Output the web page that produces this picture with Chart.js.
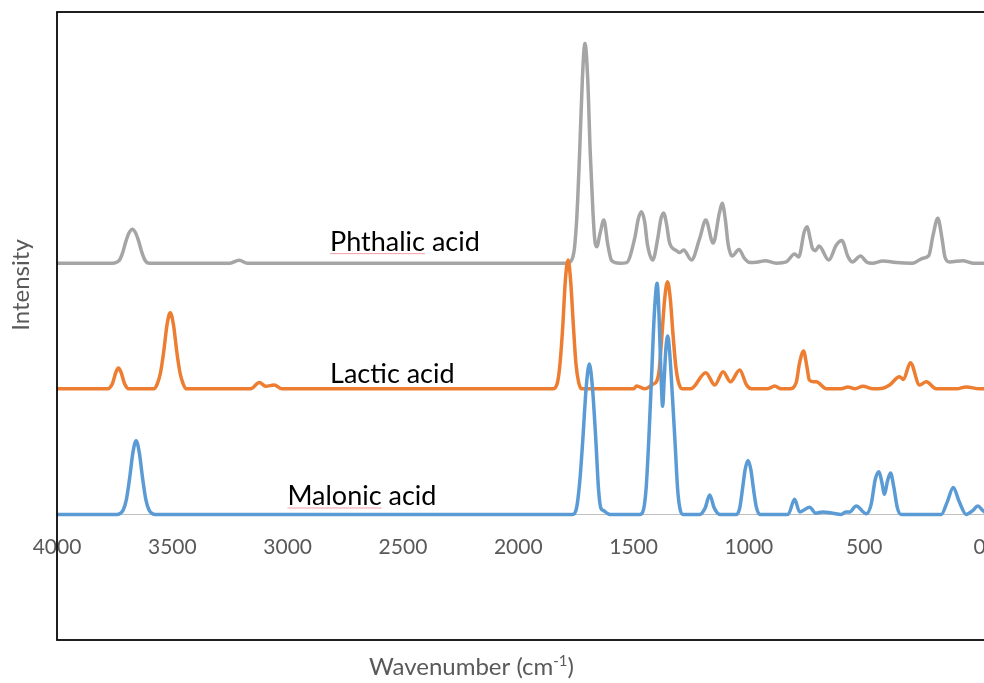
<!DOCTYPE html>
<html>
<head>
<meta charset="utf-8">
<script src="https://cdn.jsdelivr.net/npm/chart.js@4"></script>
<style>
  html, body { margin: 0; padding: 0; background: #fff; overflow: hidden; }
  #wrap { width: 998px; height: 683px; }
</style>
</head>
<body>
<div id="wrap"><canvas id="spectra" width="998" height="683"></canvas></div>
<script>
// tick labels on the wavenumber axis
const xTicks = [4000, 3500, 3000, 2500, 2000, 1500, 1000, 500, 0];

// series names and their vertical offset in the stacked plot
const seriesNames = ['Malonic acid', 'Lactic acid', 'Phthalic acid'];
const seriesOffsets = [0, 1, 2];

// [wavenumber, intensity]
const malonic = [
  [4000, 0], [3740, 0], [3727, 0.007], [3713, 0.035], [3699, 0.12], [3685, 0.29], [3671, 0.49], [3657, 0.587],
  [3643, 0.49], [3629, 0.29], [3615, 0.12], [3601, 0.035], [3587, 0.007], [3575, 0],
  [1765, 0], [1748, 0.045], [1734, 0.25], [1720, 0.6], [1706, 1.0], [1692, 1.197], [1678, 1.0],
  [1664, 0.6], [1652, 0.2], [1642, 0.05], [1630, 0.03], [1615, 0.01], [1603, 0],
  [1473, 0], [1460, 0.02], [1446, 0.2], [1434, 0.6], [1422, 1.1], [1410, 1.6], [1398, 1.84], [1390, 1.6],
  [1381, 1.1], [1374, 0.86], [1368, 1.05], [1360, 1.32], [1352, 1.42], [1344, 1.3], [1332, 0.95],
  [1321, 0.6], [1309, 0.2], [1297, 0.03], [1285, 0],
  [1213, 0], [1190, 0.05], [1170, 0.155], [1150, 0.05], [1126, 0], [1054, 0], [1040, 0.05], [1028, 0.2],
  [1016, 0.36], [1004, 0.43], [992, 0.36], [980, 0.2], [968, 0.06], [953, 0],
  [830, 0], [802, 0.12], [780, 0.02], [737, 0.057], [710, 0.01], [679, 0.02], [636, 0.01], [600, 0],
  [580, 0.02], [563, 0.02], [535, 0.067], [491, 0.005], [470, 0.08], [452, 0.28], [436, 0.34], [424, 0.26],
  [412, 0.16], [400, 0.26], [386, 0.33], [372, 0.22], [356, 0.05], [340, 0],
  [166, 0], [140, 0.1], [114, 0.215], [88, 0.1], [58, 0], [30, 0.03], [8, 0.067],
  [-15, 0.03], [-40, 0], [-80, 0]
];

const lactic = [
  [4000, 0], [3781, 0], [3760, 0.04], [3745, 0.13], [3734, 0.165], [3722, 0.13], [3707, 0.04], [3689, 0],
  [3580, 0], [3565, 0.04], [3551, 0.13], [3537, 0.3], [3523, 0.51], [3509, 0.606], [3495, 0.51],
  [3481, 0.3], [3467, 0.13], [3453, 0.04], [3440, 0],
  [3160, 0], [3123, 0.05], [3095, 0.02], [3058, 0.03], [3025, 0],
  [1850, 0], [1830, 0.05], [1819, 0.2], [1807, 0.5], [1796, 0.86], [1784, 1.025], [1773, 0.86],
  [1761, 0.5], [1750, 0.2], [1738, 0.05], [1725, 0],
  [1500, 0], [1487, 0.022], [1451, 0], [1415, 0.038], [1400, 0.06], [1389, 0.15], [1377, 0.43], [1365, 0.72],
  [1353, 0.853], [1341, 0.72], [1329, 0.43], [1317, 0.18], [1305, 0.05], [1290, 0],
  [1252, 0], [1187, 0.128], [1148, 0.03], [1112, 0.136], [1080, 0.056],
  [1040, 0.15], [1010, 0.03], [989, 0], [920, 0], [888, 0.022], [860, 0], [823, 0], [795, 0.05], [781, 0.2],
  [763, 0.3], [748, 0.17], [738, 0.07], [720, 0.056], [708, 0.056], [664, 0], [600, 0], [571, 0.015], [540, 0],
  [506, 0.02], [460, 0], [420, 0.005], [390, 0.03], [347, 0.096], [330, 0.075], [300, 0.208], [260, 0.03],
  [231, 0.056], [188, 0], [100, 0], [58, 0.015], [0, 0], [-80, 0]
];

const phthalic = [
  [4000, 0], [3760, 0], [3731, 0.02], [3716, 0.08], [3702, 0.17], [3688, 0.24], [3673, 0.27], [3659, 0.24],
  [3645, 0.17], [3631, 0.08], [3617, 0.02], [3600, 0],
  [3250, 0], [3210, 0.024], [3175, 0],
  [1790, 0], [1775, 0.01], [1765, 0.04], [1757, 0.11], [1746, 0.37], [1734, 0.88], [1722, 1.47], [1711, 1.75],
  [1699, 1.47], [1688, 0.88], [1676, 0.4], [1668, 0.18], [1660, 0.13],
  [1645, 0.24], [1629, 0.344], [1612, 0.15], [1595, 0.02], [1560, 0], [1530, 0.005], [1495, 0.2], [1480, 0.35],
  [1466, 0.41], [1452, 0.33], [1440, 0.15], [1417, 0.025], [1395, 0.2], [1382, 0.35], [1370, 0.4], [1358, 0.32],
  [1345, 0.17], [1336, 0.13], [1314, 0.1], [1300, 0.085],
  [1283, 0.105], [1249, 0.025], [1213, 0.2], [1187, 0.344], [1155, 0.16], [1128, 0.4], [1116, 0.477],
  [1103, 0.36], [1090, 0.15],
  [1073, 0.057], [1043, 0.11], [1020, 0.04], [996, 0.005], [960, 0.01], [930, 0.02], [881, 0], [838, 0.01],
  [802, 0.073], [784, 0.05], [760, 0.25], [747, 0.29], [735, 0.2], [725, 0.12], [711, 0.1], [696, 0.137],
  [654, 0.025], [621, 0.145],
  [597, 0.18], [570, 0.05], [552, 0.01], [516, 0.057], [490, 0.01], [465, 0], [419, 0.018], [361, 0.005],
  [291, 0], [246, 0.04], [220, 0.06], [202, 0.22], [181, 0.357], [163, 0.2], [150, 0.05], [130, 0.01],
  [73, 0.02], [29, 0], [-80, 0]
];

// where each series name sits (wavenumber of left edge, baseline height)
const labelWn = [3001, 2816, 2816];
const labelY = [0.075, 1.05, 2.1];

const colors = ['#5b9bd5', '#ed7d31', '#a5a5a5'];
const spectra = [malonic, lactic, phthalic];
const FONT = 'Lato, "Open Sans", sans-serif';

const datasets = spectra.map((s, i) => ({
  label: seriesNames[i],
  data: s.map(p => ({ x: p[0], y: p[1] + seriesOffsets[i] })),
  borderColor: colors[i],
  borderWidth: 3.5,
  pointRadius: 0,
  fill: false,
  cubicInterpolationMode: 'monotone'
}));

// frame, series names and axis titles
const decorations = {
  id: 'decorations',
  afterDraw(chart) {
    const { ctx, chartArea: a, scales: { x, y } } = chart;
    ctx.save();
    ctx.strokeStyle = '#000';
    ctx.lineWidth = 1.75;
    ctx.strokeRect(a.left, a.top, a.right - a.left, a.bottom - a.top);

    ctx.font = '27px ' + FONT;
    ctx.fillStyle = '#000';
    ctx.textAlign = 'left';
    ctx.textBaseline = 'alphabetic';
    seriesNames.forEach((name, i) => {
      const px = x.getPixelForValue(labelWn[i]);
      const py = y.getPixelForValue(labelY[i]);
      ctx.fillText(name, px, py);
      // spell-check underline under the first word (as in the screenshot)
      if (i !== 1) {
        const w = ctx.measureText(name.split(' ')[0]).width;
        ctx.strokeStyle = '#f2a0a8';
        ctx.lineWidth = 1;
        ctx.beginPath();
        ctx.moveTo(px, py + 3);
        ctx.lineTo(px + w, py + 3);
        ctx.stroke();
      }
    });

    // x axis title with superscript
    ctx.fillStyle = '#595959';
    const main = 'Wavenumber (cm';
    const sup = '-1';
    ctx.font = '24px ' + FONT;
    const w1 = ctx.measureText(main).width;
    const w3 = ctx.measureText(')').width;
    ctx.font = '15px ' + FONT;
    const w2 = ctx.measureText(sup).width;
    const tx = 471.5 - (w1 + w2 + w3) / 2;
    const ty = 675;
    ctx.font = '24px ' + FONT;
    ctx.fillText(main, tx, ty);
    ctx.font = '15px ' + FONT;
    ctx.fillText(sup, tx + w1, ty - 9);
    ctx.font = '24px ' + FONT;
    ctx.fillText(')', tx + w1 + w2, ty);

    // y axis title
    ctx.translate(21, 285);
    ctx.rotate(-Math.PI / 2);
    ctx.textAlign = 'center';
    ctx.textBaseline = 'middle';
    ctx.fillText('Intensity', 0, 0);
    ctx.restore();
  }
};

new Chart(document.getElementById('spectra'), {
  type: 'line',
  data: { datasets },
  options: {
    responsive: false,
    animation: false,
    devicePixelRatio: 1,
    layout: { padding: { left: 57, top: 12, right: 0, bottom: 43 } },
    plugins: { legend: { display: false }, tooltip: { enabled: false } },
    scales: {
      x: {
        type: 'linear',
        reverse: true,
        min: -80,
        max: 4000,
        position: { y: 0 },
        grid: { display: false },
        border: { display: true, color: '#bfbfbf', width: 1 },
        afterBuildTicks: axis => { axis.ticks = xTicks.map(v => ({ value: v })); },
        ticks: {
          color: '#595959',
          font: { family: FONT, size: 21 },
          padding: 12,
          maxRotation: 0,
          autoSkip: false,
          callback: v => String(v)
        }
      },
      y: {
        display: false,
        min: -1,
        max: 4
      }
    }
  },
  plugins: [decorations]
});
</script>
</body>
</html>
